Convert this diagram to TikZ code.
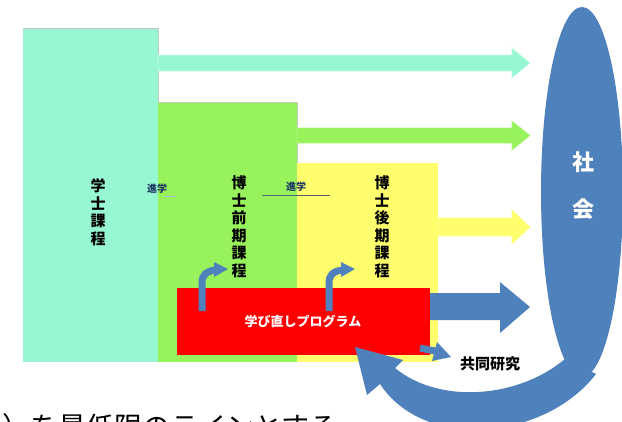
\documentclass[tikz,border=0pt]{standalone}
\usepackage{fontspec}
\usetikzlibrary{shapes.geometric}
\setmainfont{Noto Sans CJK JP}
\definecolor{mint}{HTML}{98F7D3}
\definecolor{mintline}{HTML}{C8FBE8}
\definecolor{lgreen}{HTML}{98F25C}
\definecolor{lyellow}{HTML}{FFFF6E}
\definecolor{sblue}{HTML}{4F81BD}
\definecolor{navy}{HTML}{1F3864}
\tikzset{
  vtext/.style={font=\fontsize{15}{17.5}\selectfont\bfseries,align=center,inner sep=0pt,text=black},
  shin/.style={font=\fontsize{10}{10}\selectfont\bfseries,text=navy,inner sep=0pt},
}
\begin{document}
\begin{tikzpicture}[x=1pt,y=-1pt]
\useasboundingbox (0,0) rectangle (622,421);
\fill[white] (0,0) rectangle (622,421);
% boxes
\fill[mint] (23,28) rectangle (158,362);
\draw[gray!45,line width=0.6pt] (23,28) -- (158,28) -- (158,102);
\fill[lgreen] (158,102) rectangle (297,362);
\draw[gray!45,line width=0.6pt] (158,102) -- (297,102) -- (297,163);
\fill[lyellow] (297,163) rectangle (438,362);
% red box
\node[fill=red,minimum width=253pt,minimum height=67pt,inner sep=0pt,anchor=north west] (red) at (177,288) {};
\node[font=\fontsize{13}{14}\selectfont\bfseries,text=white,inner sep=0pt] (prog) at (303,321) {学び直しプログラム};
% block arrows
\fill[mint,draw=mintline,line width=0.8pt] (158,55) -- (512,55) -- (512,48) -- (530,63) -- (512,78) -- (512,71) -- (158,71) -- cycle;
\fill[lgreen,draw=lgreen!80!white,line width=0.6pt] (297,128) -- (512,128) -- (512,121) -- (530,135.5) -- (512,150) -- (512,143) -- (297,143) -- cycle;
\fill[lyellow,draw=lyellow!80!white,line width=0.6pt] (438,218) -- (512,218) -- (512,210) -- (530,227) -- (512,244) -- (512,236) -- (438,236) -- cycle;
\fill[sblue] (430,293) -- (500,293) -- (500,282) -- (530,307) -- (500,333) -- (500,320) -- (430,320) -- cycle;
% society ellipse
\node[ellipse,fill=sblue,minimum width=82pt,minimum height=370pt,inner sep=0pt] (soc) at (582,192) {};
\node[font=\fontsize{22}{47}\selectfont\bfseries,text=white,align=center,inner sep=0pt] (socl) at (583,186) {社\\会};
% curved return arrow
\fill[sblue] (367,395) -- (355,347) -- (403,360) -- (395,368)
  .. controls (440,405) and (520,398) .. (566,358) -- (596,374)
  .. controls (545,440) and (425,452) .. (380,384) -- cycle;
% small bent arrows
\draw[sblue,line width=7pt] (202,311) -- (202,283) .. controls (202,275) and (206,271) .. (216,270);
\fill[sblue] (214,262) -- (228,269) -- (214,277) -- cycle;
\draw[sblue,line width=7pt] (329,311) -- (329,283) .. controls (329,275) and (333,271) .. (343,270);
\fill[sblue] (341,262) -- (355,269) -- (341,277) -- cycle;
\draw[sblue,line width=7pt] (420,348) -- (440,352);
\fill[sblue] (437,342) -- (451,357) -- (432,361) -- cycle;
% texts
\node[vtext] (t1) at (98,212) {学\\士\\課\\程};
\node[vtext] (t2) at (239,227) {博\\士\\前\\期\\課\\程};
\node[vtext] (t3) at (382,227) {博\\士\\後\\期\\課\\程};
\node[shin] (s1) at (157,189) {進学};
\draw[sblue!50,line width=0.7pt] (164,196) -- (176,196);
\node[shin] (s2) at (296,187) {進学};
\draw[navy!40!gray,line width=0.8pt] (262,195) -- (330,195);
\node[font=\fontsize{15}{16}\selectfont\bfseries,text=black,inner sep=0pt] (kyodo) at (490,364) {共同研究};
\node[font=\fontsize{28}{30}\selectfont,text=black,inner sep=0pt,anchor=base west] (bottom) at (2,437) {）を最低限のラインとする};
\end{tikzpicture}
\end{document}
